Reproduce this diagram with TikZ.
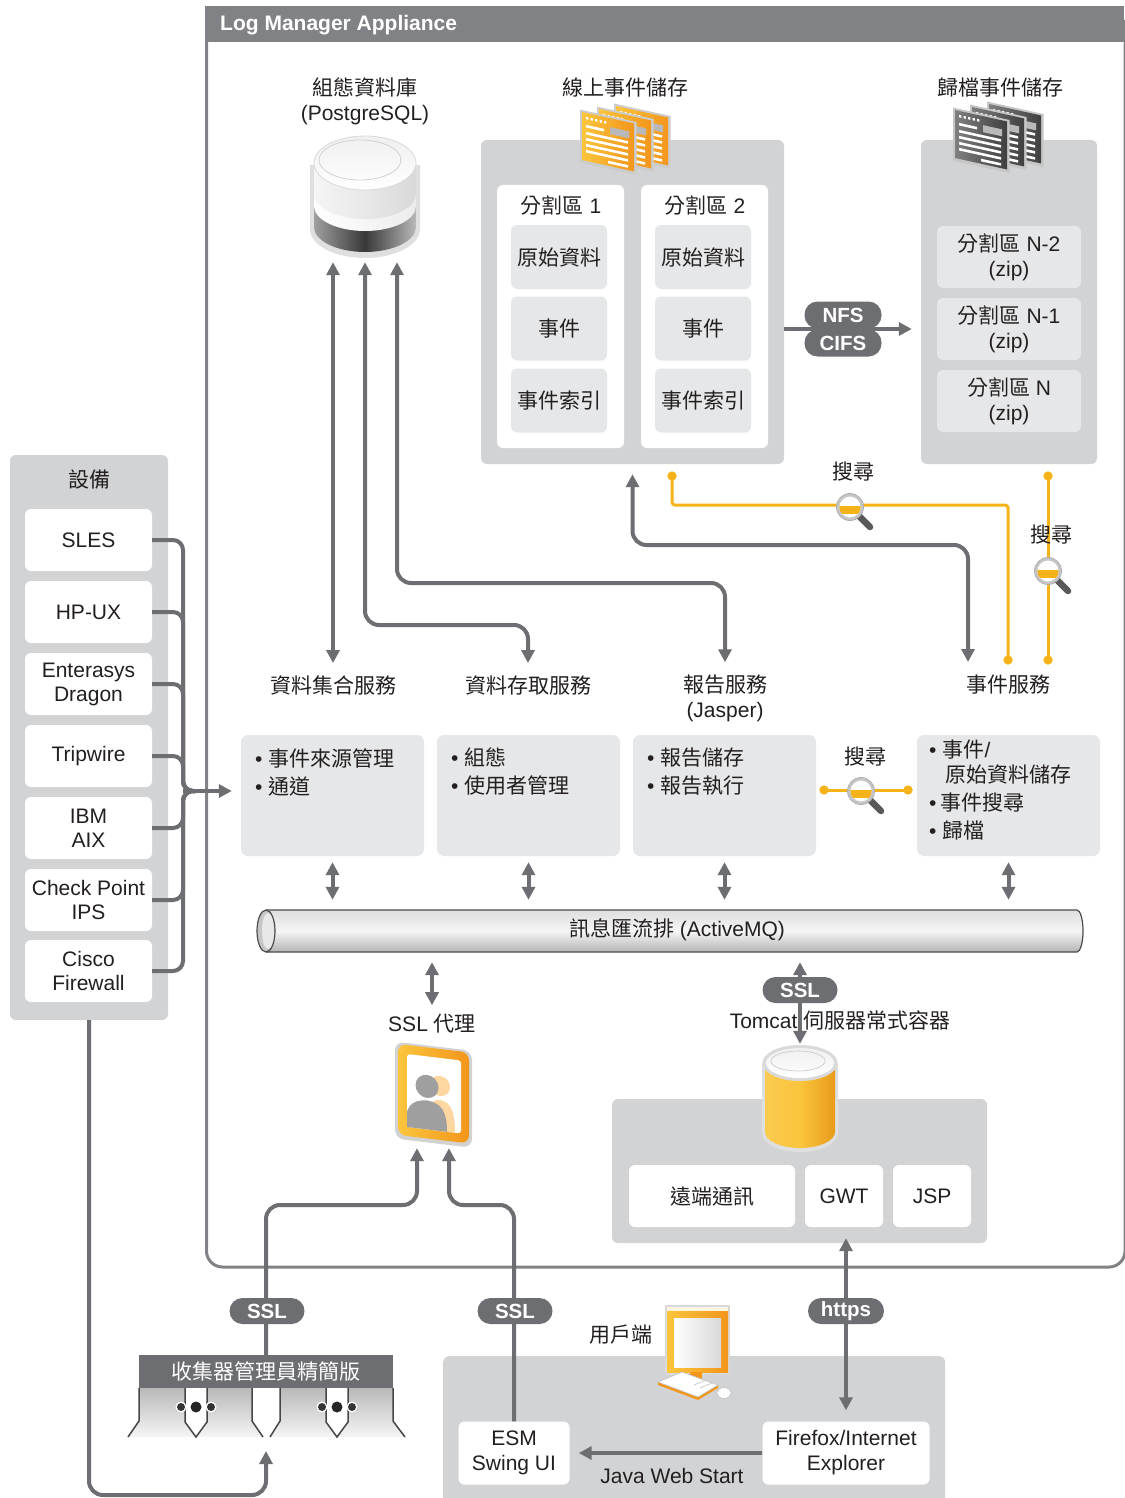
\documentclass[tikz,border=0pt]{standalone}
\usepackage{fontspec}
\setmainfont{Liberation Sans}
\newfontfamily\cjk{Noto Sans CJK TC}
\usetikzlibrary{arrows.meta,calc}
\newcommand{\zh}[1]{{\cjk #1}}

\definecolor{dg}{HTML}{6D6E71}
\definecolor{hdr}{HTML}{808285}
\definecolor{lg}{HTML}{D1D3D4}
\definecolor{sg}{HTML}{E6E7E8}
\definecolor{yl}{HTML}{F6B319}
\definecolor{orL}{HTML}{FBC53C}
\definecolor{orR}{HTML}{F3961C}
\definecolor{tcL}{HTML}{FBCB50}
\definecolor{tcR}{HTML}{E89B1B}
\definecolor{peach}{HTML}{FDD6A0}
\definecolor{ink}{HTML}{231F20}

% stack of three document sheets: x, y, left colour, right colour, rim colour
\newcommand{\docstack}[5]{%
  \foreach \k in {2,1,0}{%
    \begin{scope}[shift={({#1+17*\k},{#2-3*\k})}, yslant=-0.22]
      \fill[#5] (-2,-2) rectangle (54.5,51);
      \shade[left color=#3, right color=#4] (0,0) rectangle (52,48);
      \foreach \yy in {19,25,31,37}{\fill[white] (4,\yy) rectangle (46,\yy+2.6);}
      \fill[white] (4,12) rectangle (22,14.6);
      \fill[white] (26,43) rectangle (46,45.6);
      \fill[gray!55] (28,9) rectangle (47,16);
      \foreach \xx in {4,8.5,...,26}{\fill[white] (\xx,4) rectangle (\xx+2.4,6.4);}
    \end{scope}}}

\tikzset{
  every node/.style={font=\fontsize{21}{25}\selectfont, text=ink, inner sep=0pt},
  conn/.style={draw=dg, line width=4pt, rounded corners=14pt},
  tipe/.style={-{Triangle[length=13pt,width=13pt]}},
  tipb/.style={{Triangle[length=13pt,width=13pt]}-{Triangle[length=13pt,width=13pt]}},
  panel/.style={fill=lg, rounded corners=6pt},
  wbox/.style={fill=white, rounded corners=6pt, align=center},
  ibox/.style={fill=sg, rounded corners=6pt, align=center},
  sbox/.style={fill=sg, rounded corners=7pt},
  pill/.style={fill=dg, rounded corners=13pt, text=white, minimum width=75pt, minimum height=26pt,
    font=\fontsize{20.5}{24}\selectfont\bfseries},
  srch/.style={draw=yl, line width=3pt},
  ydot/.style={fill=yl, circle, minimum size=9pt},
  bullets/.style={align=left, anchor=west, font=\fontsize{21}{28}\selectfont},
  magglass/.pic={
    \draw[line width=6.5pt, line cap=round, black!65] (9,9) -- (20,20);
    \draw[line width=2.8pt, gray!45, fill=white] (0,0) circle (12);
    \begin{scope}\clip (0,0) circle (10.6); \fill[yl] (-13,-1) rectangle (13,7);\end{scope}
    \draw[gray!65, line width=0.8pt] (0,0) circle (13.5);
  },
}

\begin{document}
\begin{tikzpicture}[x=1pt,y=-1pt]
\useasboundingbox (0,0) rectangle (1124,1498);
\fill[white] (0,0) rectangle (1124,1498);

% ---------- appliance frame ----------
\draw[hdr, line width=3pt, rounded corners=16pt] (206.5,20) -- (206.5,1267) -- (1125,1267) -- (1125,20);
\fill[hdr] (205,6) rectangle (1124,42);
\node[anchor=west, text=white, font=\fontsize{21}{25}\selectfont\bfseries] (title) at (220,25) {Log Manager Appliance};

% ---------- configuration database ----------
\node[align=center] (dblab) at (365,101) {\zh{組態資料庫}\\(PostgreSQL)};
\node[minimum width=106pt, minimum height=128pt] (db) at (365,198) {};
\fill[gray!25] (310,165) -- (310,229) arc[start angle=180,end angle=0,x radius=55,y radius=29] -- (420,165) -- cycle;
\shade[left color=gray!75, right color=gray!55, middle color=black!78] (314,198) -- (314,227) arc[start angle=180,end angle=0,x radius=51,y radius=25] -- (416,198) -- cycle;
\shade[left color=white, right color=gray!15] (314,163) -- (314,206) arc[start angle=180,end angle=0,x radius=51,y radius=25] -- (416,163) -- cycle;
\shade[left color=gray!8, right color=gray!30, middle color=gray!18] (314,163) -- (314,194) arc[start angle=180,end angle=0,x radius=51,y radius=25] -- (416,163) -- cycle;
\shade[top color=gray!12, bottom color=white, draw=gray!30, line width=0.8pt] (365,163) ellipse[x radius=51, y radius=27];
\draw[gray!35, line width=0.8pt] (360,160) ellipse[x radius=41, y radius=20];

% ---------- online event store ----------
\node (onlab) at (625,88) {\zh{線上事件儲存}};
\node[panel, minimum width=303pt, minimum height=324pt] (onbox) at (632.5,302) {};
\node[wbox, minimum width=127pt, minimum height=263pt] (p1) at (560.5,316.5) {};
\node[wbox, minimum width=127pt, minimum height=263pt] (p2) at (704.5,316.5) {};
\node (p1t) at (561,205) {\zh{分割區} 1};
\node (p2t) at (705,205) {\zh{分割區} 2};
\foreach \px/\nm in {559/p1, 703/p2}{
  \node[ibox, minimum width=96pt, minimum height=64pt] (\nm a) at (\px,257) {\zh{原始資料}};
  \node[ibox, minimum width=96pt, minimum height=64pt] (\nm b) at (\px,328.5) {\zh{事件}};
  \node[ibox, minimum width=96pt, minimum height=64pt] (\nm c) at (\px,400.5) {\zh{事件索引}};
}
\docstack{582}{112}{orL}{orR}{gray!40}

% ---------- archive event store ----------
\node (arlab) at (1000,88) {\zh{歸檔事件儲存}};
\node[panel, minimum width=176pt, minimum height=324pt] (arbox) at (1009,302) {};
\node[ibox, minimum width=144pt, minimum height=62pt] (ar1) at (1009,257) {\zh{分割區} N-2\\(zip)};
\node[ibox, minimum width=144pt, minimum height=62pt] (ar2) at (1009,329) {\zh{分割區} N-1\\(zip)};
\node[ibox, minimum width=144pt, minimum height=62pt] (ar3) at (1009,401) {\zh{分割區} N\\(zip)};
\docstack{955}{110}{black!50}{black!75}{gray!45}

% NFS / CIFS transfer
\draw[conn, tipe] ([yshift=-27pt]onbox.east) -- ([yshift=-27pt, xshift=-9pt]arbox.west);
\node[pill, minimum width=77pt, minimum height=27pt] (nfs) at (843,315) {NFS};
\node[pill, minimum width=77pt, minimum height=27pt] (cifs) at (843,343) {CIFS};

% ---------- service labels ----------
\node (lab1) at (333,685) {\zh{資料集合服務}};
\node (lab2) at (528,685) {\zh{資料存取服務}};
\node[align=center] (lab3) at (725,698) {\zh{報告服務}\\(Jasper)};
\node (lab4) at (1008,685) {\zh{事件服務}};
\coordinate (evtop) at (968,674);

% database links
\draw[conn, tipb, shorten >=12pt] ([xshift=-32pt]db.south) -- (lab1.north);
\draw[conn, tipb, shorten >=12pt] (db.south) |- (528,625) -- (lab2.north);
\draw[conn, tipb, shorten >=12pt] ([xshift=32pt]db.south) |- (725,583) -- (lab3.north);
% online store to event service
\draw[conn, tipb, shorten <=10pt, shorten >=12pt] (onbox.south) |- (968,545) -- (evtop);

% search links
\node[ydot] (ya1) at (672,476) {};
\node[ydot] (yb1) at (1008,660) {};
\draw[srch, rounded corners=3pt] (ya1.center) |- (1008,505) -- (yb1.center);
\node[ydot] (ya2) at (1048,476) {};
\node[ydot] (yb2) at (1048,660) {};
\draw[srch] (ya2.center) -- (yb2.center);
\node[ydot] at (672,476) {};
\node[ydot] at (1008,660) {};
\node[ydot] at (1048,476) {};
\node[ydot] at (1048,660) {};
\pic at (850,507) {magglass};
\pic at (1048,571) {magglass};
\node (s1) at (853,472) {\zh{搜尋}};
\node (s2) at (1051,535) {\zh{搜尋}};

% ---------- service boxes ----------
\node[sbox, minimum width=183pt, minimum height=121pt] (sb1) at (332.5,795.5) {};
\node[sbox, minimum width=183pt, minimum height=121pt] (sb2) at (528.5,795.5) {};
\node[sbox, minimum width=183pt, minimum height=121pt] (sb3) at (724.5,795.5) {};
\node[sbox, minimum width=183pt, minimum height=121pt] (sb4) at (1008.5,795.5) {};
\node[bullets] (t1) at (255,772) {•\hspace{6pt}\zh{事件來源管理}\\•\hspace{6pt}\zh{通道}};
\node[bullets] (t2) at (451,772) {•\hspace{6pt}\zh{組態}\\•\hspace{6pt}\zh{使用者管理}};
\node[bullets] (t3) at (647,772) {•\hspace{6pt}\zh{報告儲存}\\•\hspace{6pt}\zh{報告執行}};
\node[bullets, font=\fontsize{21}{25}\selectfont] (t4) at (929,790)
  {•\hspace{6pt}\zh{事件}/\\\hspace*{16pt}\zh{原始資料儲存}\\[3pt]•\hspace{4pt}\zh{事件搜尋}\\[3pt]•\hspace{6pt}\zh{歸檔}};
\node[ydot] (ya3) at (824,790) {};
\node[ydot] (yb3) at (908,790) {};
\draw[srch] (ya3.center) -- (yb3.center);
\node[ydot] at (824,790) {};
\node[ydot] at (908,790) {};
\pic at (861,791) {magglass};
\node (s3) at (865,757) {\zh{搜尋}};

% ---------- message bus ----------
\node[minimum width=826pt, minimum height=42pt] (bus) at (670,931) {};
\shade[top color=gray!25, bottom color=gray!58, middle color=gray!8] (266,910) -- (1077,910)
  arc[start angle=-90,end angle=90,x radius=6,y radius=21] -- (266,952) -- cycle;
\draw[gray!60!black, line width=1.2pt] (266,910) -- (1077,910)
  arc[start angle=-90,end angle=90,x radius=6,y radius=21] -- (266,952);
\draw[fill=gray!45, draw=gray!60!black, line width=1.2pt] (266,931) ellipse[x radius=9, y radius=21];
\fill[gray!18] (268,931) ellipse[x radius=6, y radius=18];
\node (bustext) at (677,930) {\zh{訊息匯流排} (ActiveMQ)};
\foreach \s in {sb1,sb2,sb3,sb4}
  \draw[conn, tipb, shorten <=6pt, shorten >=10pt] (\s.south) -- (\s.south |- bus.north);

% ---------- SSL proxy ----------
\node (pxlab) at (432,1024) {SSL \zh{代理}};
\draw[conn, tipb, shorten <=10pt, shorten >=9pt] (bus.south -| pxlab.north) -- (pxlab.north);
\node[minimum width=78pt, minimum height=96pt] (px) at (432,1093) {};
\begin{scope}[shift={(432,1093)}, yslant=-0.12]
  \fill[gray!35, rounded corners=9pt] (-37,-47) rectangle (40,50);
  \shade[left color=orL, right color=orR, rounded corners=8pt] (-34,-45) rectangle (37,46);
  \fill[white, rounded corners=3pt] (-25,-36) rectangle (29,37);
  \begin{scope}
    \clip (-25,-36) rectangle (29,37);
    \fill[peach] (8,-8) circle (10);
    \fill[peach] (-6,37) .. controls (-6,14) and (-2,7) .. (8,6) .. controls (18,7) and (23,14) .. (23,37) -- cycle;
    \fill[gray!75] (-5,-6) circle (11.5);
    \fill[gray!75] (-27,37) .. controls (-27,16) and (-20,9) .. (-5,8) .. controls (9,9) and (15,16) .. (15,37) -- cycle;
  \end{scope}
\end{scope}

% ---------- Tomcat container ----------
\node[panel, minimum width=375pt, minimum height=144pt] (tbox) at (799.5,1171) {};
\node[wbox, minimum width=166pt, minimum height=62pt] (rm) at (712,1196) {\zh{遠端通訊}};
\node[wbox, minimum width=78pt, minimum height=62pt] (gwt) at (844,1196) {GWT};
\node[wbox, minimum width=78pt, minimum height=62pt] (jsp) at (932,1196) {JSP};
\node (tclab) at (840,1020) {Tomcat \zh{伺服器常式容器}};
\node[minimum width=72pt, minimum height=106pt] (tc) at (800,1097) {};
\draw[conn, tipb, shorten <=10pt] (bus.south -| tc.north) -- (tc.north);
\node[pill] (sslt) at (800,990) {SSL};
\fill[gray!25] (762,1063) -- (762,1133) arc[start angle=180,end angle=0,x radius=38,y radius=19] -- (838,1063) -- cycle;
\shade[left color=tcL, right color=tcR, middle color=orL] (765,1064) -- (765,1132) arc[start angle=180,end angle=0,x radius=35,y radius=16] -- (835,1064) -- cycle;
\fill[gray!30] (800,1063) ellipse[x radius=37.5, y radius=18];
\shade[top color=gray!12, bottom color=white] (800,1063) ellipse[x radius=34, y radius=15];
\draw[gray!40, line width=0.7pt] (798,1061) ellipse[x radius=27, y radius=10];

% ---------- devices ----------
\node[panel, minimum width=158pt, minimum height=565pt] (devbox) at (89,737.5) {};
\node (devlab) at (89,480) {\zh{設備}};
\node[wbox, minimum width=127pt, minimum height=62pt] (d1) at (88.5,540) {SLES};
\node[wbox, minimum width=127pt, minimum height=62pt] (d2) at (88.5,612) {HP-UX};
\node[wbox, minimum width=127pt, minimum height=62pt] (d3) at (88.5,684) {Enterasys\\[-1pt]Dragon};
\node[wbox, minimum width=127pt, minimum height=62pt] (d4) at (88.5,756) {Tripwire};
\node[wbox, minimum width=127pt, minimum height=62pt] (d5) at (88.5,828) {IBM\\[-1pt]AIX};
\node[wbox, minimum width=127pt, minimum height=62pt] (d6) at (88.5,900) {Check Point\\[-1pt]IPS};
\node[wbox, minimum width=127pt, minimum height=62pt] (d7) at (88.5,971) {Cisco\\[-1pt]Firewall};
\coordinate (merge) at (183,791);
\foreach \dv in {d1,d2,d3,d4,d5,d6,d7}
  \draw[conn, rounded corners=10pt] (\dv.east) -| (merge) -- ++(12,0);
\draw[conn, tipe, shorten >=9pt] (merge) -- (merge -| sb1.west);

% ---------- collector manager ----------
\node[fill=dg, minimum width=254pt, minimum height=33pt, text=white] (colbar) at (266,1371.5) {\zh{收集器管理員精簡版}};
\coordinate (colfoot) at (266,1437);
\shade[top color=gray!55, bottom color=gray!8] (139,1388) -- (252,1388) -- (252,1421) -- (263,1437) -- (128,1437) -- (139,1421) -- cycle;
\shade[top color=gray!55, bottom color=gray!8] (280,1388) -- (393,1388) -- (393,1421) -- (405,1437) -- (270,1437) -- (280,1421) -- cycle;
\draw[gray!55!black, line width=1.5pt] (139,1388) -- (139,1421) -- (128,1437);
\draw[gray!55!black, line width=1.5pt] (252,1388) -- (252,1421) -- (263,1437);
\draw[gray!55!black, line width=1.5pt] (280,1388) -- (280,1421) -- (270,1437);
\draw[gray!55!black, line width=1.5pt] (393,1388) -- (393,1421) -- (405,1437);
\foreach \nx in {196,337}{
  \fill[white] (\nx-11,1388) -- (\nx+11,1388) -- (\nx+11,1422) -- (\nx,1437) -- (\nx-11,1422) -- cycle;
  \draw[gray!55!black, line width=1.5pt] (\nx-11,1388) -- (\nx-11,1422) -- (\nx,1437) -- (\nx+11,1422) -- (\nx+11,1388);
  \fill[white] (\nx-15,1407) circle (5.5); \fill[white] (\nx+15,1407) circle (5.5);
  \fill[black!80] (\nx-15,1407) circle (4); \fill[black!80] (\nx+15,1407) circle (4);
  \fill[black!85] (\nx,1407) circle (5.5);
}
\draw[conn, tipe, shorten >=14pt] (devbox.south) |- (266,1495) -- (colfoot);

% ---------- client ----------
\node[panel, minimum width=502pt, minimum height=170pt, anchor=north west] (clbox) at (443,1356) {};
\node[wbox, minimum width=111pt, minimum height=63pt] (esm) at (514,1453) {ESM\\Swing UI};
\node[wbox, minimum width=167pt, minimum height=63pt] (ff) at (846,1453) {Firefox/Internet\\Explorer};
\draw[conn, tipe, shorten >=9pt] (ff.west) -- (esm.east);
\node (jws) at (672,1476) {Java Web Start};
\node (cllab) at (621,1335) {\zh{用戶端}};
\begin{scope}[shift={(696,1340)}]
  \fill[gray!30] (-31,-35) rectangle (34,35);
  \shade[left color=orL, right color=orR] (-29,-33) rectangle (32,32);
  \fill[white!85!orL] (-29,-33) rectangle (32,-29);
  \shade[left color=white, right color=gray!30] (-22,-22) rectangle (25,27);
  \fill[orR] (-6,32) rectangle (6,39);
  \fill[orR] (-38,42) -- (2,57) -- (22,45) -- (22,48) -- (2,60) -- (-38,45) -- cycle;
  \filldraw[fill=white, draw=gray!50, line width=0.6pt] (-38,42) -- (-14,32) -- (22,45) -- (2,57) -- cycle;
  \draw[gray!50, line width=0.6pt] (-2,45) -- (10,40) (4,48) -- (16,43);
  \filldraw[fill=white, draw=gray!45, line width=0.8pt] (28,53) ellipse[x radius=7, y radius=5.5];
\end{scope}

% secure links from the clients to the SSL proxy and the web container
\draw[conn, tipe] (colbar.north) |- (417,1205) -- ([xshift=-15pt,yshift=-7pt]px.south);
\draw[conn, tipe] (esm.north) |- (449,1205) -- ([xshift=17pt,yshift=-7pt]px.south);
\node[pill] (ssl1) at (267,1311) {SSL};
\node[pill] (ssl2) at (515,1311) {SSL};
\draw[conn, tipb, shorten <=-5pt, shorten >=11pt] (tbox.south -| ff.north) -- (ff.north);
\node[pill, minimum width=76pt] (https) at (846,1311) {https};
\end{tikzpicture}
\end{document}
